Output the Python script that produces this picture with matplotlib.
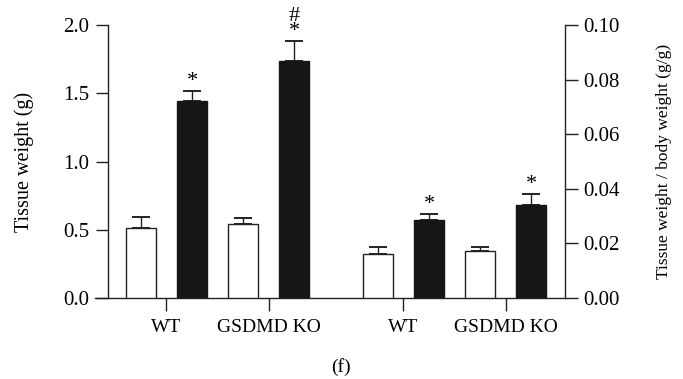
import matplotlib.pyplot as plt
import numpy as np

plt.rcParams['font.family'] = ['Liberation Serif', 'DejaVu Serif']

groups = ["WT", "GSDMD KO"]

# tissue weight (g)
weight_ctrl = [0.51, 0.54]
weight_ctrl_err = [0.08, 0.045]
weight_trt = [1.44, 1.74]
weight_trt_err = [0.08, 0.14]
weight_marks = ["*", "#\n*"]

# tissue weight / body weight (g/g)
ratio_ctrl = [0.0162, 0.0172]
ratio_ctrl_err = [0.0025, 0.0015]
ratio_trt = [0.0286, 0.0341]
ratio_trt_err = [0.0022, 0.0039]
ratio_marks = ["*", "*"]

fig = plt.figure(figsize=(6.83, 3.79), dpi=100)
ax = fig.add_axes([0.139, 0.2137, 0.688, 0.7203])
ax2 = ax.twinx()

w = 0.30
off = 0.25
left_x = np.arange(2)
right_x = left_x + 2.32

err_kw = dict(fmt='none', ecolor='#222222', elinewidth=1.0, capsize=6.3, capthick=1.4)
bar_kw = dict(width=w, linewidth=1.0, zorder=3)

def draw(a, x, ctrl, ctrl_err, trt, trt_err, marks):
    a.bar(x - off, ctrl, color='white', edgecolor='#222222', **bar_kw)
    a.bar(x + off, trt, color='#161616', edgecolor='#161616', **bar_kw)
    a.errorbar(x - off, ctrl, yerr=[np.zeros(2), ctrl_err], zorder=2, **err_kw)
    a.errorbar(x + off, trt, yerr=[np.zeros(2), trt_err], zorder=2, **err_kw)
    for xi, yi, ei, m in zip(x + off, trt, trt_err, marks):
        a.annotate(m, (xi, yi + ei), xytext=(0, 0), textcoords='offset points',
                   ha='center', va='bottom', fontsize=16, linespacing=0.75)

draw(ax, left_x, weight_ctrl, weight_ctrl_err, weight_trt, weight_trt_err, weight_marks)
draw(ax2, right_x, ratio_ctrl, ratio_ctrl_err, ratio_trt, ratio_trt_err, ratio_marks)

ax.set_xlim(-0.70, 3.90)
ax.set_ylim(0, 2.0)
ax2.set_ylim(0, 0.10)
ax.set_yticks([0, 0.5, 1.0, 1.5, 2.0])
ax.set_yticklabels(["0.0", "0.5", "1.0", "1.5", "2.0"])
ax2.set_yticks([0, 0.02, 0.04, 0.06, 0.08, 0.10])
ax2.set_yticklabels(["0.00", "0.02", "0.04", "0.06", "0.08", "0.10"])

ax.set_xticks(np.concatenate([left_x, right_x]))
ax.set_xticklabels(groups + groups)

for a in (ax, ax2):
    a.spines['top'].set_visible(False)
    for s in a.spines.values():
        s.set_linewidth(1.0)
        s.set_color('#222222')
ax.spines['right'].set_visible(False)
ax2.spines['left'].set_visible(False)
ax2.spines['bottom'].set_visible(False)
ax.spines['left'].set_position(('data', -0.576))

ax.tick_params(axis='y', direction='out', length=9, width=1.0, labelsize=15, color='#222222', pad=4)
ax.tick_params(axis='x', direction='out', length=9, width=1.0, labelsize=14, color='#222222', pad=6)
ax2.tick_params(axis='y', direction='out', length=9, width=1.0, labelsize=15, color='#222222', pad=4)

ax.set_ylabel("Tissue weight (g)", fontsize=14.5, labelpad=21)
ax2.set_ylabel("Tissue weight / body weight (g/g)", fontsize=12.5, labelpad=26)

fig.text(0.499, 0.008, "(f)", ha='center', va='bottom', fontsize=14)

fig.savefig("out.png", dpi=100)
